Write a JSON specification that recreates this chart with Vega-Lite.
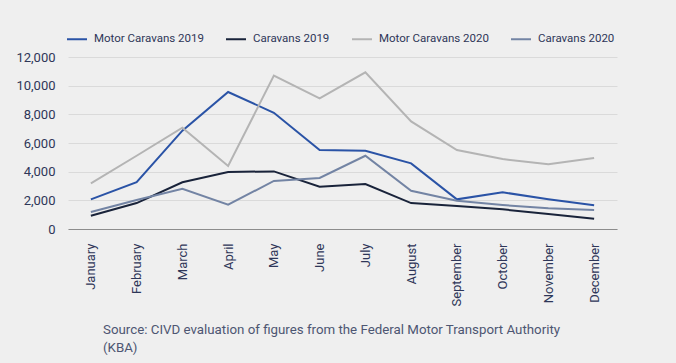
{
  "$schema": "https://vega.github.io/schema/vega-lite/v6.json",
  "width": 549,
  "height": 172,
  "autosize": "none",
  "padding": {"left": 68, "top": 57, "right": 59, "bottom": 134},
  "background": "#efefef",
  "config": {
    "view": {"stroke": null},
    "font": "Roboto",
    "axis": {"labelColor": "#2e3658", "labelFont": "Roboto"},
    "legend": {"labelColor": "#2e3658", "labelFont": "Roboto"}
  },
  "title": {
    "text": ["Source: CIVD evaluation of figures from the Federal Motor Transport Authority", "(KBA)"],
    "orient": "bottom",
    "anchor": "start",
    "frame": "group",
    "dx": 35,
    "offset": 17,
    "fontSize": 13.3,
    "fontWeight": "normal",
    "color": "#4d5672",
    "lineHeight": 18
  },
  "data": {
    "values": [
      {"month": "January", "series": "Motor Caravans 2019", "value": 2070},
      {"month": "February", "series": "Motor Caravans 2019", "value": 3260},
      {"month": "March", "series": "Motor Caravans 2019", "value": 6860},
      {"month": "April", "series": "Motor Caravans 2019", "value": 9560},
      {"month": "May", "series": "Motor Caravans 2019", "value": 8110},
      {"month": "June", "series": "Motor Caravans 2019", "value": 5510},
      {"month": "July", "series": "Motor Caravans 2019", "value": 5460},
      {"month": "August", "series": "Motor Caravans 2019", "value": 4580},
      {"month": "September", "series": "Motor Caravans 2019", "value": 2070},
      {"month": "October", "series": "Motor Caravans 2019", "value": 2560},
      {"month": "November", "series": "Motor Caravans 2019", "value": 2070},
      {"month": "December", "series": "Motor Caravans 2019", "value": 1650},
      {"month": "January", "series": "Caravans 2019", "value": 930},
      {"month": "February", "series": "Caravans 2019", "value": 1810},
      {"month": "March", "series": "Caravans 2019", "value": 3260},
      {"month": "April", "series": "Caravans 2019", "value": 3980},
      {"month": "May", "series": "Caravans 2019", "value": 4020},
      {"month": "June", "series": "Caravans 2019", "value": 2950},
      {"month": "July", "series": "Caravans 2019", "value": 3140},
      {"month": "August", "series": "Caravans 2019", "value": 1810},
      {"month": "September", "series": "Caravans 2019", "value": 1600},
      {"month": "October", "series": "Caravans 2019", "value": 1370},
      {"month": "November", "series": "Caravans 2019", "value": 1050},
      {"month": "December", "series": "Caravans 2019", "value": 720},
      {"month": "January", "series": "Motor Caravans 2020", "value": 3190},
      {"month": "February", "series": "Motor Caravans 2020", "value": 5110},
      {"month": "March", "series": "Motor Caravans 2020", "value": 7070},
      {"month": "April", "series": "Motor Caravans 2020", "value": 4400},
      {"month": "May", "series": "Motor Caravans 2020", "value": 10700},
      {"month": "June", "series": "Motor Caravans 2020", "value": 9120},
      {"month": "July", "series": "Motor Caravans 2020", "value": 10930},
      {"month": "August", "series": "Motor Caravans 2020", "value": 7510},
      {"month": "September", "series": "Motor Caravans 2020", "value": 5510},
      {"month": "October", "series": "Motor Caravans 2020", "value": 4880},
      {"month": "November", "series": "Motor Caravans 2020", "value": 4510},
      {"month": "December", "series": "Motor Caravans 2020", "value": 4950},
      {"month": "January", "series": "Caravans 2020", "value": 1190},
      {"month": "February", "series": "Caravans 2020", "value": 2020},
      {"month": "March", "series": "Caravans 2020", "value": 2810},
      {"month": "April", "series": "Caravans 2020", "value": 1700},
      {"month": "May", "series": "Caravans 2020", "value": 3350},
      {"month": "June", "series": "Caravans 2020", "value": 3560},
      {"month": "July", "series": "Caravans 2020", "value": 5110},
      {"month": "August", "series": "Caravans 2020", "value": 2670},
      {"month": "September", "series": "Caravans 2020", "value": 1970},
      {"month": "October", "series": "Caravans 2020", "value": 1670},
      {"month": "November", "series": "Caravans 2020", "value": 1440},
      {"month": "December", "series": "Caravans 2020", "value": 1330}
    ]
  },
  "mark": {"type": "line", "strokeWidth": 2},
  "encoding": {
    "x": {
      "field": "month",
      "type": "ordinal",
      "sort": ["January", "February", "March", "April", "May", "June", "July", "August", "September", "October", "November", "December"],
      "scale": {"type": "point", "padding": 0.5},
      "axis": {
        "title": null,
        "labelAngle": 270,
        "labelFontSize": 13,
        "labelPadding": 14,
        "ticks": false,
        "grid": false,
        "domainColor": "#8c8c8c",
        "domainWidth": 1
      }
    },
    "y": {
      "field": "value",
      "type": "quantitative",
      "scale": {"domain": [0, 12000]},
      "axis": {
        "title": null,
        "values": [0, 2000, 4000, 6000, 8000, 10000, 12000],
        "format": ",.0f",
        "labelFontSize": 13,
        "labelPadding": 13,
        "ticks": false,
        "domain": false,
        "gridColor": "#dadada",
        "gridWidth": 1
      }
    },
    "color": {
      "field": "series",
      "type": "nominal",
      "scale": {
        "domain": ["Motor Caravans 2019", "Caravans 2019", "Motor Caravans 2020", "Caravans 2020"],
        "range": ["#2a53a6", "#19233a", "#b4b4b4", "#7384a4"]
      },
      "legend": {
        "title": null,
        "orient": "none",
        "legendX": -2,
        "legendY": -29,
        "direction": "horizontal",
        "symbolType": "stroke",
        "symbolSize": 400,
        "symbolStrokeWidth": 2,
        "labelFontSize": 11.5,
        "labelOffset": 6,
        "columnPadding": 18
      }
    }
  }
}
